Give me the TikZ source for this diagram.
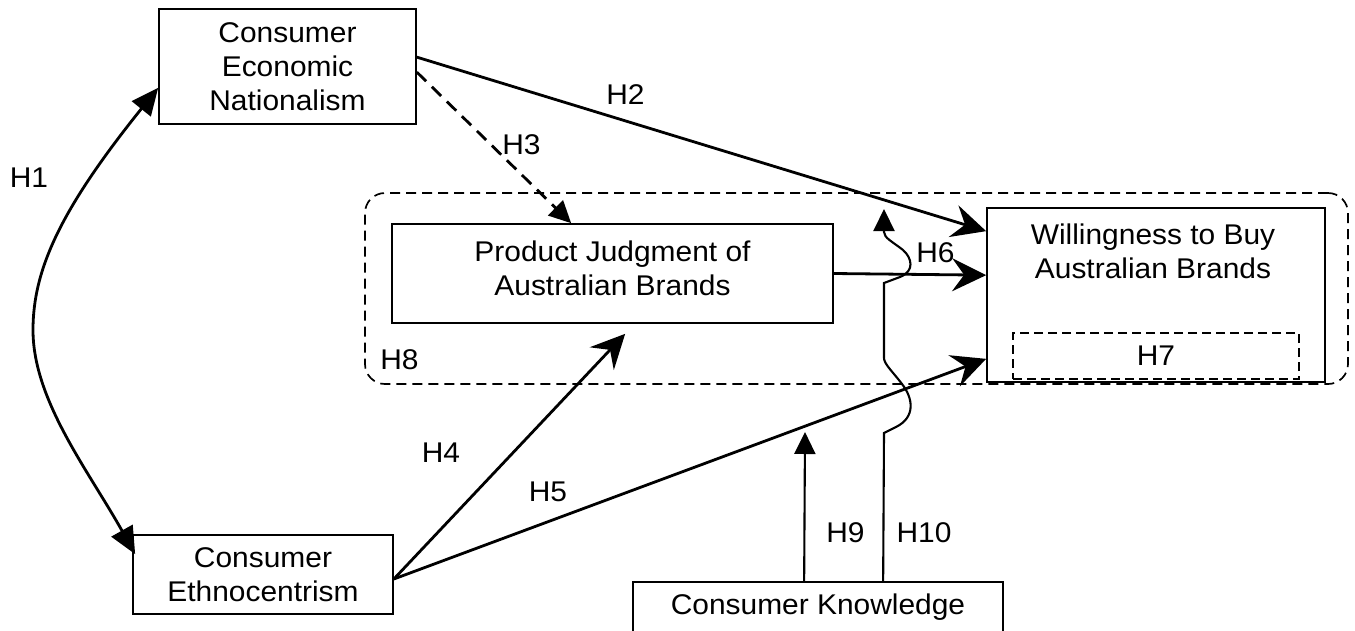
\documentclass[tikz,border=0pt]{standalone}
\usepackage{fontspec}
\setmainfont{Liberation Sans}[FakeStretch=1.05]
\usetikzlibrary{arrows.meta,calc}
\tikzset{
  box/.style={draw, line width=1.7pt, inner sep=0pt},
  lbl/.style={font=\fontsize{28.5}{34}\selectfont, inner sep=0pt, align=center},
  con/.style={line width=2.8pt},
  thinline/.style={line width=2.1pt},
  bigtip/.style={-{Stealth[length=34pt,width=33pt,inset=12pt]}},
  smalltip/.style={-{Triangle[length=22pt,width=21pt]}},
  bothtips/.style={{Triangle[length=27pt,width=24pt]}-{Triangle[length=27pt,width=24pt]}},
  groupbox/.style={draw, line width=1.7pt, dash pattern=on 10pt off 6pt, rounded corners=20pt, inner sep=0pt},
  innerdash/.style={draw, line width=1.7pt, dash pattern=on 9pt off 5pt, inner sep=0pt},
}
\begin{document}
\begin{tikzpicture}[x=1pt,y=-1pt]
\clip (0,0) rectangle (1355,630);
\fill[white] (0,0) rectangle (1355,630);

% nodes
\node[box, lbl, minimum width=257pt, minimum height=115pt] (cen) at (287.5,66.5) {Consumer\\Economic\\Nationalism};
\node[box, lbl, minimum width=260pt, minimum height=79pt] (ce) at (263,574.5) {Consumer\\Ethnocentrism};
\node[groupbox, minimum width=983pt, minimum height=191pt] (grp) at (856.5,288.5) {};
\node[box, minimum width=441pt, minimum height=99pt] (pj) at (612.5,273.5) {};
\node[lbl] (pjt) at (612.5,268) {Product Judgment of\\Australian Brands};
\node[box, minimum width=338pt, minimum height=174pt] (wb) at (1156,295) {};
\node[lbl] (wbt) at (1153,251) {Willingness to Buy\\Australian Brands};
\node[innerdash, minimum width=286pt, minimum height=46pt] (h7box) at (1156,356) {};
\node[lbl] (h7) at (1156,356) {H7};
\node[box, minimum width=370pt, minimum height=90pt, anchor=north] (ck) at (818,581) {};
\node[lbl, anchor=base] (ckt) at (818,614) {Consumer Knowledge};

% hypothesis labels
\node[lbl] (h1) at (29,178) {H1};
\node[lbl] (h2) at (625.5,95) {H2};
\node[lbl] (h3) at (521.5,145) {H3};
\node[lbl] (h4) at (441,453) {H4};
\node[lbl] (h5) at (548,492) {H5};
\node[lbl] (h6) at (935.5,253) {H6};
\node[lbl] (h8) at (399.5,360) {H8};
\node[lbl] (h9) at (845.5,533) {H9};
\node[lbl] (h10) at (924,533) {H10};

\coordinate (h9end) at (805,432);
\coordinate (h10end) at (884,209);

% connectors
\draw[con, bothtips] ([yshift=37pt]cen.south west) .. controls (60,210) and (33,270) .. (33,330)
   .. controls (33,400) and (88,470) .. ([xshift=3pt,yshift=-20pt]ce.north west);
\draw[con, bigtip] ([yshift=-49pt]cen.north east) -- ([yshift=-24pt]wb.north west);
\draw[con, dash pattern=on 13pt off 8pt, smalltip] ([yshift=-64pt]cen.north east) -- ([xshift=180pt]pj.north west);
\draw[con, bigtip] (pj.east) -- ([yshift=-68pt]wb.north west);
\draw[con, bigtip] ([yshift=-4.5pt]ce.east) -- ([xshift=234pt,yshift=-10pt]pj.south west);
\draw[con, bigtip] ([yshift=-4.5pt]ce.east) -- ([yshift=24pt]wb.south west);
\draw[thinline, smalltip] ([xshift=172pt]ck.north west) -- (h9end);
\draw[thinline, smalltip] ([xshift=251pt]ck.north west) -- (884,433) -- (896,427)
   .. controls (916,417) and (913,398) .. (902,384)
   .. controls (893,372) and (884,364) .. (884,358)
   -- (884,283) -- (900,277)
   .. controls (915,271) and (912,258) .. (903,250)
   .. controls (893,242) and (884,238) .. (884,232)
   -- (h10end);
\end{tikzpicture}
\end{document}
